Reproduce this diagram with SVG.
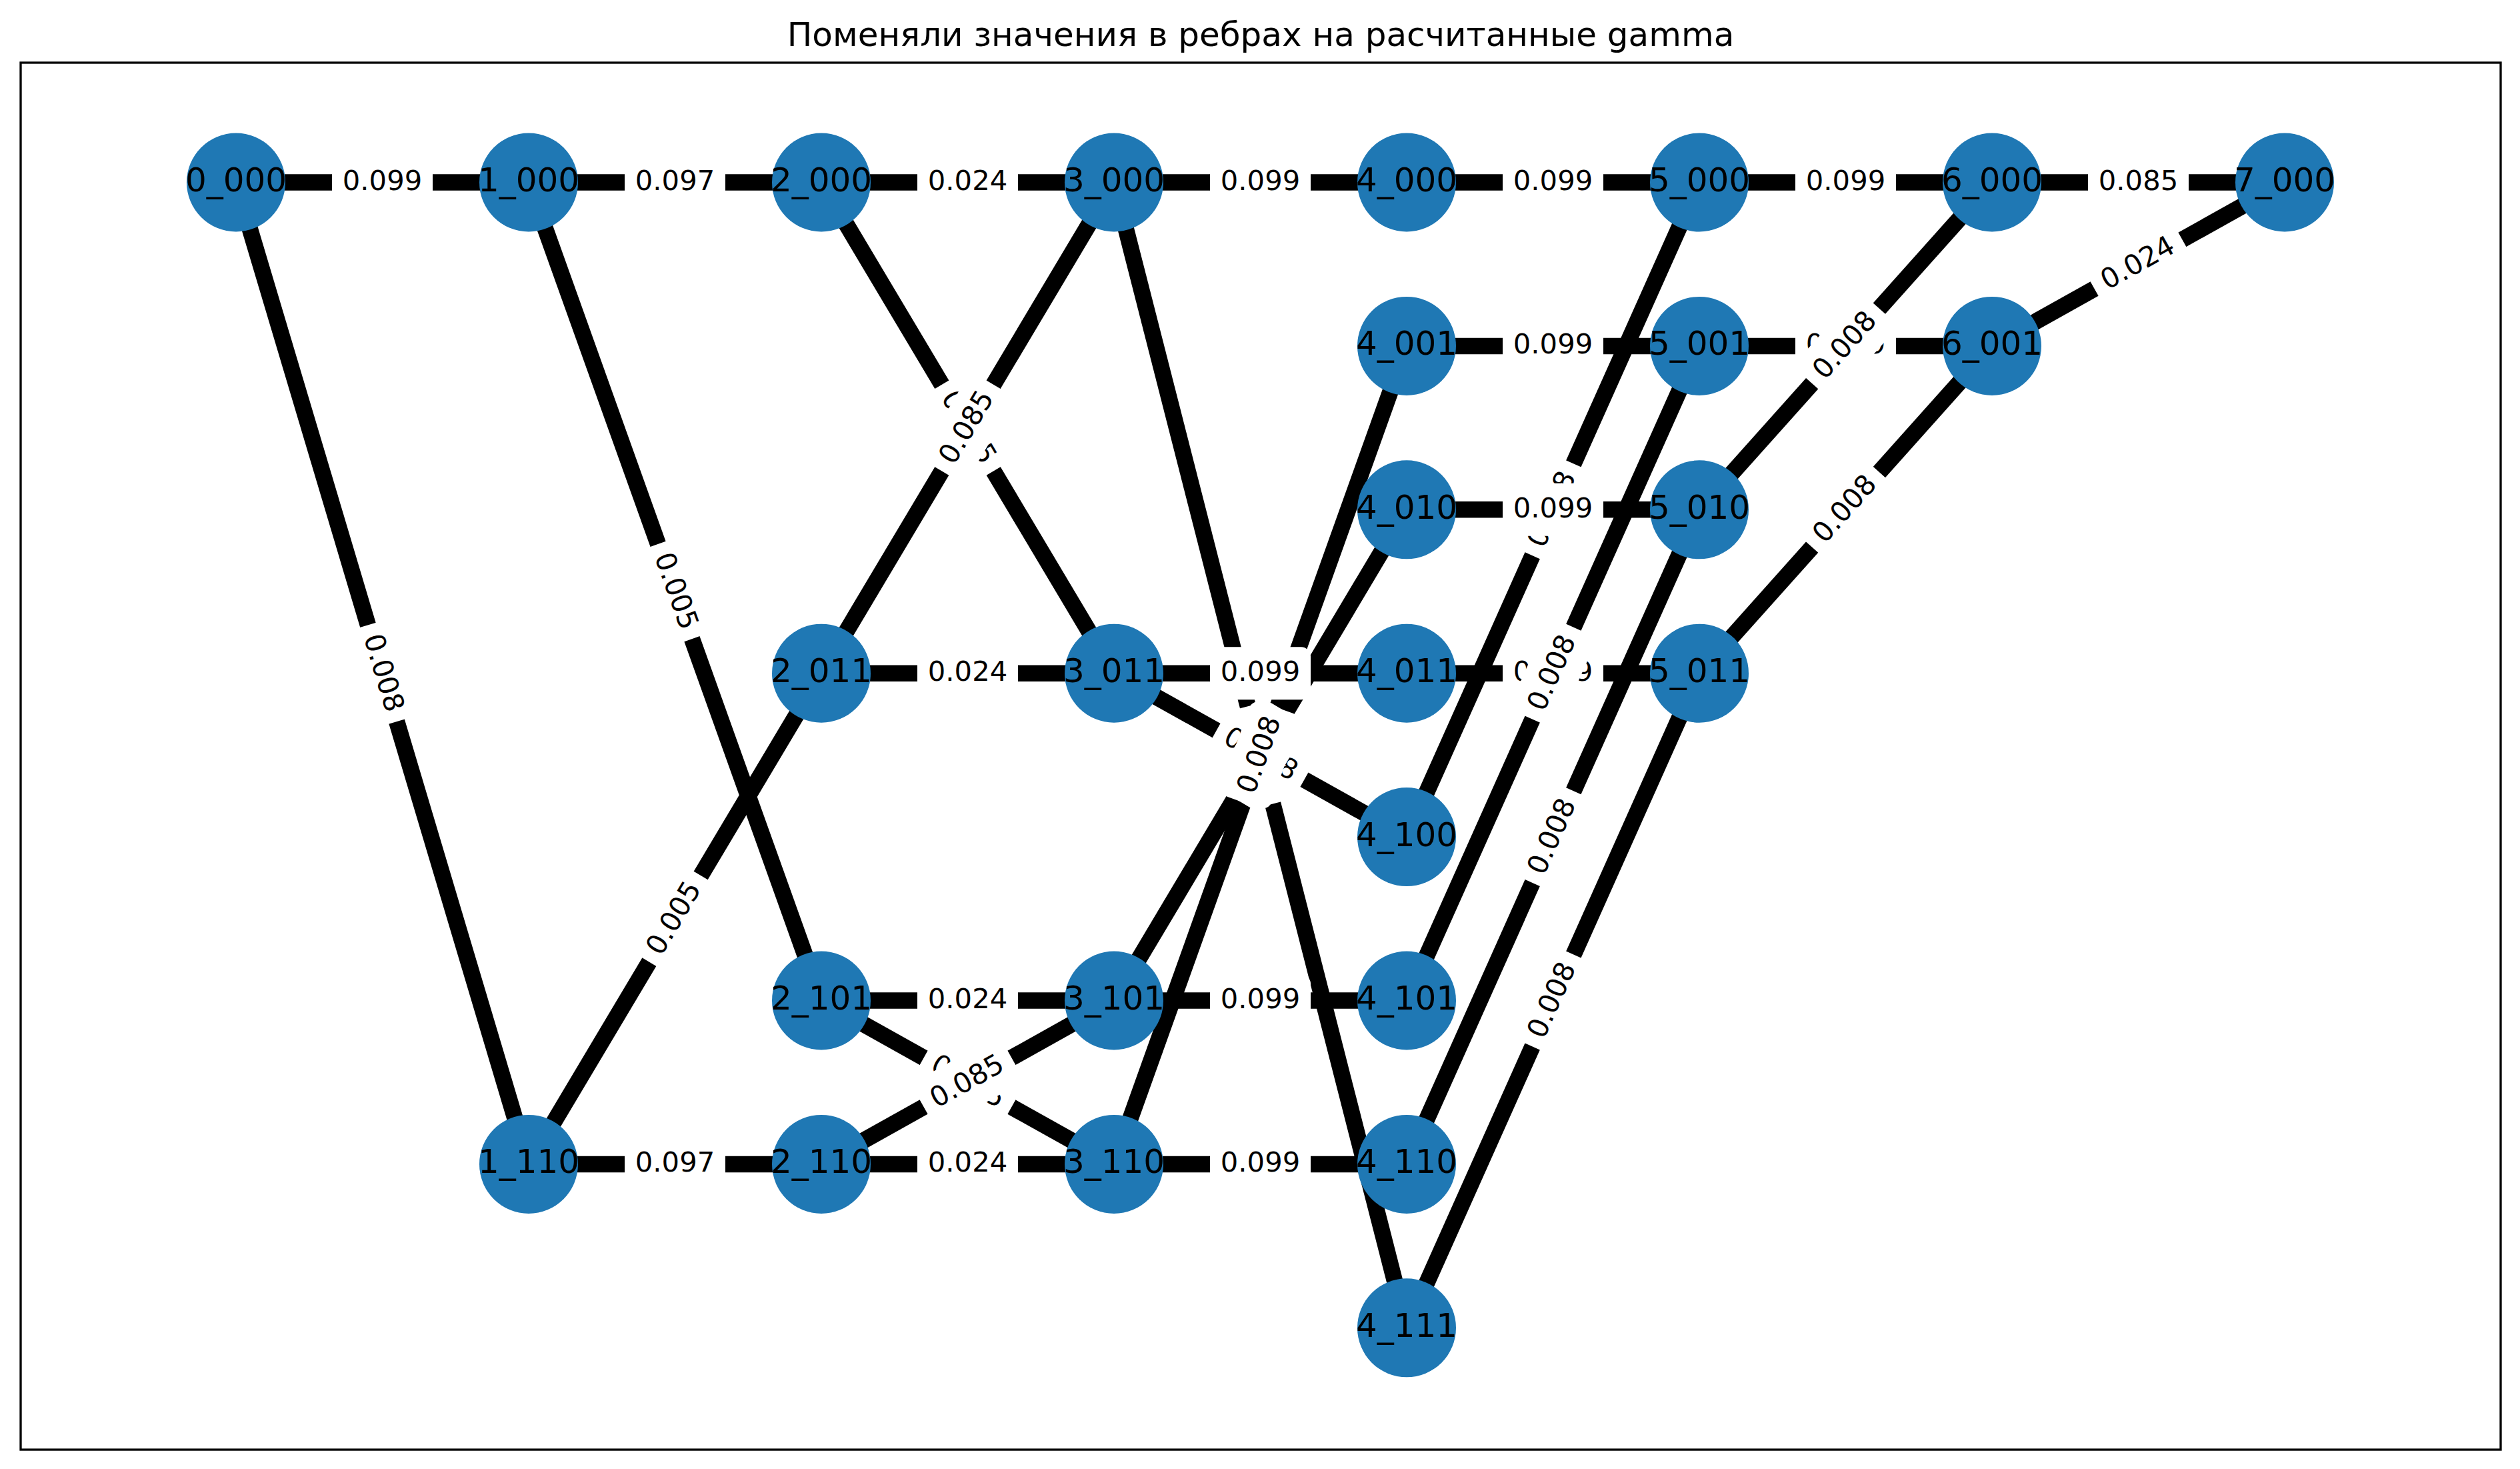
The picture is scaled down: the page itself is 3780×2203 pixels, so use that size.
<svg xmlns="http://www.w3.org/2000/svg" width="3780" height="2203" viewBox="0 0 3780 2203">
<style>
.bg{fill:#fff}
.frame{fill:none;stroke:#000;stroke-width:3.3}
.title{font-family:"DejaVu Sans","Noto Sans",sans-serif;font-size:50px;text-anchor:middle;fill:#000}
#edges line{stroke:#000;stroke-width:24.5;stroke-linecap:butt}
.node circle{fill:#1f78b4}
.node text{font-family:"DejaVu Sans",sans-serif;font-size:50px;text-anchor:middle;fill:#000}
#lb{fill:#ffffff;stroke:#ffffff;stroke-width:4}
.el text{font-family:"DejaVu Sans",sans-serif;font-size:41.7px;text-anchor:middle;fill:#000}
</style>
<defs>
<rect id="lb" x="-73.5" y="-37.5" width="147" height="75" rx="12.5" fill="#ffffff" stroke="#ffffff"/>
</defs>
<rect class="bg" x="0" y="0" width="3780" height="2203"/>
<text class="title" x="1891" y="69">Поменяли значения в ребрах на расчитанные gamma</text>
<rect class="frame" x="31" y="94" width="3720" height="2080"/>
<g id="edges">
<line x1="354" y1="273.5" x2="793" y2="273.5"/>
<line x1="354" y1="273.5" x2="793" y2="1745.9"/>
<line x1="793" y1="273.5" x2="1232" y2="273.5"/>
<line x1="793" y1="273.5" x2="1232" y2="1500.5"/>
<line x1="793" y1="1745.9" x2="1232" y2="1745.9"/>
<line x1="793" y1="1745.9" x2="1232" y2="1009.7"/>
<line x1="1232" y1="273.5" x2="1671" y2="273.5"/>
<line x1="1232" y1="273.5" x2="1671" y2="1009.7"/>
<line x1="1232" y1="1009.7" x2="1671" y2="273.5"/>
<line x1="1232" y1="1009.7" x2="1671" y2="1009.7"/>
<line x1="1232" y1="1500.5" x2="1671" y2="1500.5"/>
<line x1="1232" y1="1500.5" x2="1671" y2="1745.9"/>
<line x1="1232" y1="1745.9" x2="1671" y2="1500.5"/>
<line x1="1232" y1="1745.9" x2="1671" y2="1745.9"/>
<line x1="1671" y1="273.5" x2="2110" y2="273.5"/>
<line x1="1671" y1="273.5" x2="2110" y2="1991.3"/>
<line x1="1671" y1="1009.7" x2="2110" y2="1009.7"/>
<line x1="1671" y1="1009.7" x2="2110" y2="1255.1"/>
<line x1="1671" y1="1500.5" x2="2110" y2="1500.5"/>
<line x1="1671" y1="1500.5" x2="2110" y2="764.3"/>
<line x1="1671" y1="1745.9" x2="2110" y2="1745.9"/>
<line x1="1671" y1="1745.9" x2="2110" y2="518.9"/>
<line x1="2110" y1="273.5" x2="2549" y2="273.5"/>
<line x1="2110" y1="518.9" x2="2549" y2="518.9"/>
<line x1="2110" y1="764.3" x2="2549" y2="764.3"/>
<line x1="2110" y1="1009.7" x2="2549" y2="1009.7"/>
<line x1="2110" y1="1255.1" x2="2549" y2="273.5"/>
<line x1="2110" y1="1500.5" x2="2549" y2="518.9"/>
<line x1="2110" y1="1745.9" x2="2549" y2="764.3"/>
<line x1="2110" y1="1991.3" x2="2549" y2="1009.7"/>
<line x1="2549" y1="273.5" x2="2988" y2="273.5"/>
<line x1="2549" y1="518.9" x2="2988" y2="518.9"/>
<line x1="2549" y1="764.3" x2="2988" y2="273.5"/>
<line x1="2549" y1="1009.7" x2="2988" y2="518.9"/>
<line x1="2988" y1="273.5" x2="3427" y2="273.5"/>
<line x1="2988" y1="518.9" x2="3427" y2="273.5"/>
</g>
<g id="n0_000" class="node"><circle cx="354" cy="273.5" r="74"/><text x="354" y="287">0_000</text></g>
<g id="n1_000" class="node"><circle cx="793" cy="273.5" r="74"/><text x="793" y="287">1_000</text></g>
<g id="n1_110" class="node"><circle cx="793" cy="1745.9" r="74"/><text x="793" y="1759.4">1_110</text></g>
<g id="n2_000" class="node"><circle cx="1232" cy="273.5" r="74"/><text x="1232" y="287">2_000</text></g>
<g id="n2_011" class="node"><circle cx="1232" cy="1009.7" r="74"/><text x="1232" y="1023.2">2_011</text></g>
<g id="n2_101" class="node"><circle cx="1232" cy="1500.5" r="74"/><text x="1232" y="1514">2_101</text></g>
<g id="n2_110" class="node"><circle cx="1232" cy="1745.9" r="74"/><text x="1232" y="1759.4">2_110</text></g>
<g id="n3_000" class="node"><circle cx="1671" cy="273.5" r="74"/><text x="1671" y="287">3_000</text></g>
<g id="n3_011" class="node"><circle cx="1671" cy="1009.7" r="74"/><text x="1671" y="1023.2">3_011</text></g>
<g id="n3_101" class="node"><circle cx="1671" cy="1500.5" r="74"/><text x="1671" y="1514">3_101</text></g>
<g id="n3_110" class="node"><circle cx="1671" cy="1745.9" r="74"/><text x="1671" y="1759.4">3_110</text></g>
<g id="n4_000" class="node"><circle cx="2110" cy="273.5" r="74"/><text x="2110" y="287">4_000</text></g>
<g id="n4_001" class="node"><circle cx="2110" cy="518.9" r="74"/><text x="2110" y="532.4">4_001</text></g>
<g id="n4_010" class="node"><circle cx="2110" cy="764.3" r="74"/><text x="2110" y="777.8">4_010</text></g>
<g id="n4_011" class="node"><circle cx="2110" cy="1009.7" r="74"/><text x="2110" y="1023.2">4_011</text></g>
<g id="n4_100" class="node"><circle cx="2110" cy="1255.1" r="74"/><text x="2110" y="1268.6">4_100</text></g>
<g id="n4_101" class="node"><circle cx="2110" cy="1500.5" r="74"/><text x="2110" y="1514">4_101</text></g>
<g id="n4_110" class="node"><circle cx="2110" cy="1745.9" r="74"/><text x="2110" y="1759.4">4_110</text></g>
<g id="n4_111" class="node"><circle cx="2110" cy="1991.3" r="74"/><text x="2110" y="2004.8">4_111</text></g>
<g id="n5_000" class="node"><circle cx="2549" cy="273.5" r="74"/><text x="2549" y="287">5_000</text></g>
<g id="n5_001" class="node"><circle cx="2549" cy="518.9" r="74"/><text x="2549" y="532.4">5_001</text></g>
<g id="n5_010" class="node"><circle cx="2549" cy="764.3" r="74"/><text x="2549" y="777.8">5_010</text></g>
<g id="n5_011" class="node"><circle cx="2549" cy="1009.7" r="74"/><text x="2549" y="1023.2">5_011</text></g>
<g id="n6_000" class="node"><circle cx="2988" cy="273.5" r="74"/><text x="2988" y="287">6_000</text></g>
<g id="n6_001" class="node"><circle cx="2988" cy="518.9" r="74"/><text x="2988" y="532.4">6_001</text></g>
<g id="n7_000" class="node"><circle cx="3427" cy="273.5" r="74"/><text x="3427" y="287">7_000</text></g>
<g id="edge-labels">
<g class="el" transform="translate(573.5,273.5)"><use href="#lb"/><text y="11.5">0.099</text></g>
<g class="el" transform="translate(573.5,1009.7) rotate(73.40)"><use href="#lb"/><text y="11.5">0.008</text></g>
<g class="el" transform="translate(1012.5,273.5)"><use href="#lb"/><text y="11.5">0.097</text></g>
<g class="el" transform="translate(1012.5,887) rotate(70.31)"><use href="#lb"/><text y="11.5">0.005</text></g>
<g class="el" transform="translate(1012.5,1745.9)"><use href="#lb"/><text y="11.5">0.097</text></g>
<g class="el" transform="translate(1012.5,1377.8) rotate(-59.19)"><use href="#lb"/><text y="11.5">0.005</text></g>
<g class="el" transform="translate(1451.5,273.5)"><use href="#lb"/><text y="11.5">0.024</text></g>
<g class="el" transform="translate(1451.5,641.6) rotate(59.19)"><use href="#lb"/><text y="11.5">0.085</text></g>
<g class="el" transform="translate(1451.5,641.6) rotate(-59.19)"><use href="#lb"/><text y="11.5">0.085</text></g>
<g class="el" transform="translate(1451.5,1009.7)"><use href="#lb"/><text y="11.5">0.024</text></g>
<g class="el" transform="translate(1451.5,1500.5)"><use href="#lb"/><text y="11.5">0.024</text></g>
<g class="el" transform="translate(1451.5,1623.2) rotate(29.20)"><use href="#lb"/><text y="11.5">0.085</text></g>
<g class="el" transform="translate(1451.5,1623.2) rotate(-29.20)"><use href="#lb"/><text y="11.5">0.085</text></g>
<g class="el" transform="translate(1451.5,1745.9)"><use href="#lb"/><text y="11.5">0.024</text></g>
<g class="el" transform="translate(1890.5,273.5)"><use href="#lb"/><text y="11.5">0.099</text></g>
<g class="el" transform="translate(1890.5,1132.4) rotate(75.66)"><use href="#lb"/><text y="11.5">0.008</text></g>
<g class="el" transform="translate(1890.5,1009.7)"><use href="#lb"/><text y="11.5">0.099</text></g>
<g class="el" transform="translate(1890.5,1132.4) rotate(29.20)"><use href="#lb"/><text y="11.5">0.008</text></g>
<g class="el" transform="translate(1890.5,1500.5)"><use href="#lb"/><text y="11.5">0.099</text></g>
<g class="el" transform="translate(1890.5,1132.4) rotate(-59.19)"><use href="#lb"/><text y="11.5">0.008</text></g>
<g class="el" transform="translate(1890.5,1745.9)"><use href="#lb"/><text y="11.5">0.099</text></g>
<g class="el" transform="translate(1890.5,1132.4) rotate(-70.31)"><use href="#lb"/><text y="11.5">0.008</text></g>
<g class="el" transform="translate(2329.5,273.5)"><use href="#lb"/><text y="11.5">0.099</text></g>
<g class="el" transform="translate(2329.5,518.9)"><use href="#lb"/><text y="11.5">0.099</text></g>
<g class="el" transform="translate(2329.5,764.3) rotate(-65.90)"><use href="#lb"/><text y="11.5">0.008</text></g>
<g class="el" transform="translate(2329.5,764.3)"><use href="#lb"/><text y="11.5">0.099</text></g>
<g class="el" transform="translate(2329.5,1009.7)"><use href="#lb"/><text y="11.5">0.099</text></g>
<g class="el" transform="translate(2329.5,1009.7) rotate(-65.90)"><use href="#lb"/><text y="11.5">0.008</text></g>
<g class="el" transform="translate(2329.5,1255.1) rotate(-65.90)"><use href="#lb"/><text y="11.5">0.008</text></g>
<g class="el" transform="translate(2329.5,1500.5) rotate(-65.90)"><use href="#lb"/><text y="11.5">0.008</text></g>
<g class="el" transform="translate(2768.5,273.5)"><use href="#lb"/><text y="11.5">0.099</text></g>
<g class="el" transform="translate(2768.5,518.9)"><use href="#lb"/><text y="11.5">0.099</text></g>
<g class="el" transform="translate(2768.5,518.9) rotate(-48.19)"><use href="#lb"/><text y="11.5">0.008</text></g>
<g class="el" transform="translate(2768.5,764.3) rotate(-48.19)"><use href="#lb"/><text y="11.5">0.008</text></g>
<g class="el" transform="translate(3207.5,273.5)"><use href="#lb"/><text y="11.5">0.085</text></g>
<g class="el" transform="translate(3207.5,396.2) rotate(-29.20)"><use href="#lb"/><text y="11.5">0.024</text></g>
</g>
</svg>
